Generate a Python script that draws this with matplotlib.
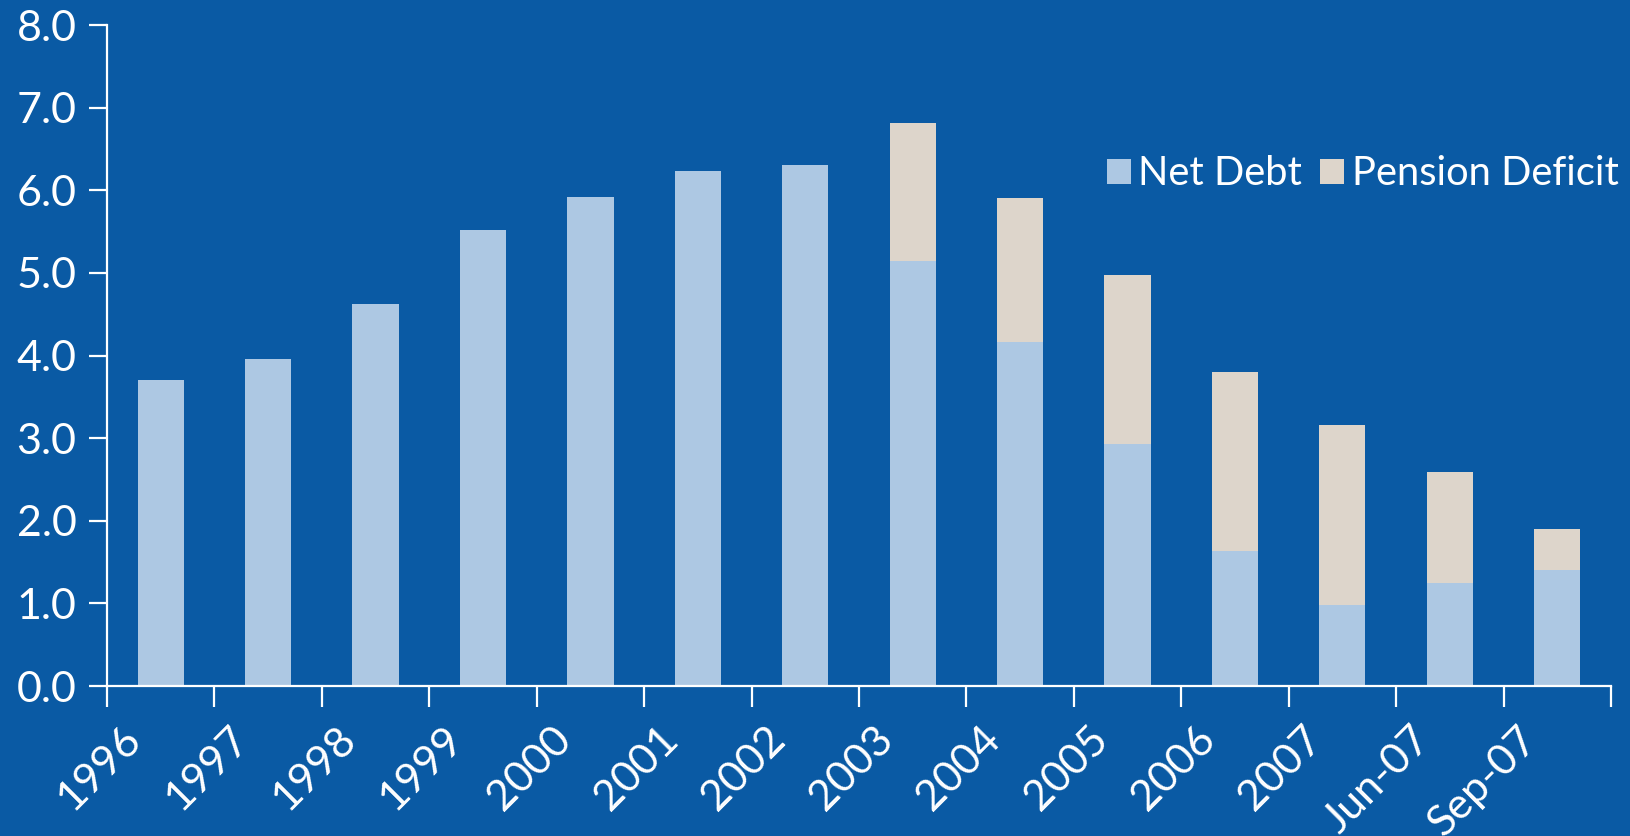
import matplotlib
matplotlib.use("Agg")
import matplotlib.pyplot as plt
from matplotlib.transforms import ScaledTranslation
import numpy as np

# Periods and values (net debt and pension deficit stacked)
periods = ["1996", "1997", "1998", "1999", "2000", "2001", "2002",
           "2003", "2004", "2005", "2006", "2007", "Jun-07", "Sep-07"]
net_debt = [3.71, 3.96, 4.62, 5.52, 5.92, 6.23, 6.31,
            5.14, 4.16, 2.93, 1.64, 0.98, 1.25, 1.40]
pension_deficit = [0.0, 0.0, 0.0, 0.0, 0.0, 0.0, 0.0,
                   1.68, 1.75, 2.05, 2.16, 2.18, 1.34, 0.50]
y_ticks = [0.0, 1.0, 2.0, 3.0, 4.0, 5.0, 6.0, 7.0, 8.0]

BG = "#0A5AA4"
NET_COLOR = "#ADC8E3"
PENSION_COLOR = "#DDD5CB"
FG = "white"

plt.rcParams["font.family"] = ["Lato", "DejaVu Sans"]
plt.rcParams["font.weight"] = "normal"

fig = plt.figure(figsize=(16.31, 8.36), dpi=100, facecolor=BG)
ax = fig.add_axes([0.0656, 0.1794, 0.9221, 0.7906], facecolor=BG)

x = np.arange(len(periods))
width = 0.43
ax.bar(x, net_debt, width, color=NET_COLOR, label="Net Debt", zorder=2)
ax.bar(x, pension_deficit, width, bottom=net_debt, color=PENSION_COLOR,
       label="Pension Deficit", zorder=2)

ax.set_xlim(-0.5, len(periods) - 0.5)
ax.set_ylim(0, 8)

for side in ("top", "right"):
    ax.spines[side].set_visible(False)
for side in ("left", "bottom"):
    ax.spines[side].set_color(FG)
    ax.spines[side].set_linewidth(1.6)

ax.set_yticks(y_ticks)
ax.set_yticklabels([f"{v:.1f}" for v in y_ticks])
ax.tick_params(axis="y", colors=FG, labelcolor=FG, labelsize=31,
               length=13, width=1.6, pad=9)

# category boundaries carry the tick marks, centres carry the labels
ax.set_xticks(np.arange(len(periods) + 1) - 0.5)
ax.set_xticklabels([])
ax.tick_params(axis="x", which="major", colors=FG, length=15, width=1.6)
ax.set_xticks(x, minor=True)
ax.set_xticklabels(periods, minor=True, rotation=45, ha="right",
                   rotation_mode="anchor", va="center")
ax.tick_params(axis="x", which="minor", length=0, labelcolor=FG,
               labelsize=31, pad=34)
shift = ScaledTranslation(-0.26, 0, fig.dpi_scale_trans)
for lab in ax.get_xticklabels(minor=True):
    lab.set_transform(lab.get_transform() + shift)

leg = ax.legend(loc="center right", bbox_to_anchor=(1.016, 0.775), ncol=2,
                frameon=False, fontsize=28.7, handlelength=0.6,
                handleheight=0.6, handletextpad=0.2, columnspacing=0.45,
                borderaxespad=0.0)
for t in leg.get_texts():
    t.set_color(FG)

fig.savefig("out.png", dpi=100, facecolor=BG)
